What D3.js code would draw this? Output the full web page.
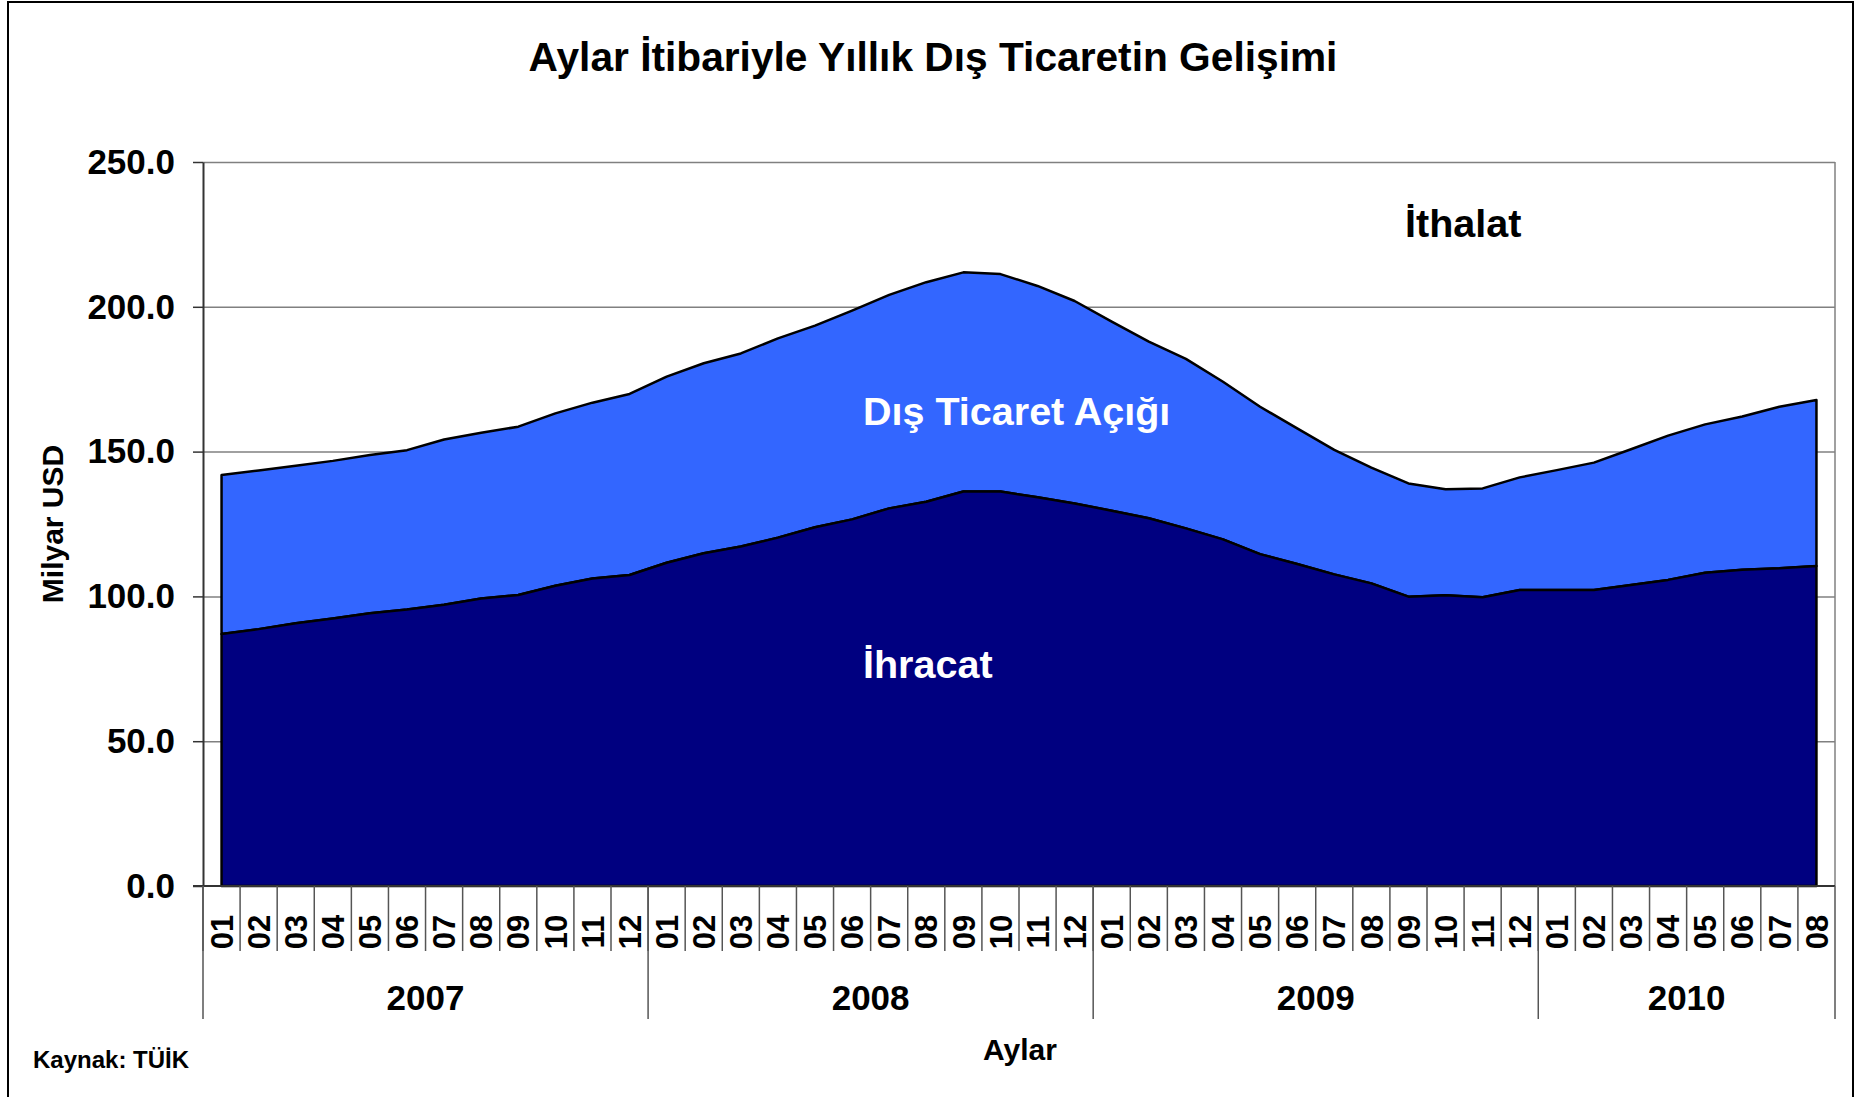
<!DOCTYPE html>
<html>
<head>
<meta charset="utf-8">
<script src="https://cdn.jsdelivr.net/npm/d3@7"></script>
<style>
  body { margin: 0; background: #fff; }
  text { font-family: "Liberation Sans", Arial, sans-serif; font-weight: bold; }
</style>
</head>
<body>
<div id="vis-holder"></div>
<script>
// Data (milyar USD, 12-month rolling)
const years = ["2007", "2008", "2009", "2010"];
const monthsPerYear = [12, 12, 12, 8];
const ihracat = [
  87.0, 88.7, 90.7, 92.4, 94.2, 95.5, 97.1, 99.3, 100.5, 103.7, 106.2, 107.4,
  111.6, 114.9, 117.2, 120.3, 123.9, 126.6, 130.4, 132.7, 136.2, 136.2, 134.2, 132.1,
  129.6, 127.0, 123.5, 119.7, 114.6, 111.2, 107.6, 104.5, 99.9, 100.4, 99.7, 102.2,
  102.2, 102.2, 103.9, 105.7, 108.2, 109.2, 109.7, 110.5
];
const ithalat = [
  141.9, 143.5, 145.1, 146.8, 148.8, 150.5, 154.2, 156.5, 158.6, 163.2, 166.9, 169.9,
  175.9, 180.5, 183.9, 189.1, 193.5, 198.7, 204.1, 208.5, 211.9, 211.3, 207.2, 202.0,
  194.9, 188.0, 182.0, 174.1, 165.5, 158.0, 150.6, 144.5, 139.0, 137.0, 137.3, 141.1,
  143.6, 146.2, 150.8, 155.5, 159.4, 162.1, 165.5, 167.8
];
const yTicks = [0, 50, 100, 150, 200, 250];

// Set dimensions
const width = 1858;
const height = 1097;
const margin = { top: 162, right: 23, bottom: 211, left: 203 };

// build month keys like 2007-01
const keys = [];
years.forEach((yr, i) => {
  for (let m = 1; m <= monthsPerYear[i]; m++) keys.push(yr + "-" + String(m).padStart(2, "0"));
});
const data = keys.map((k, i) => ({ key: k, month: k.slice(5), ihr: ihracat[i], ith: ithalat[i] }));

const svg = d3.select("#vis-holder")
  .append("svg")
  .attr("width", width)
  .attr("height", height);

svg.append("rect")
  .attr("width", width).attr("height", height)
  .attr("fill", "#fff");

// outer chart border (bottom edge falls outside the picture)
svg.append("rect")
  .attr("x", 8).attr("y", 2)
  .attr("width", 1845).attr("height", 1110)
  .attr("fill", "none")
  .attr("stroke", "#000")
  .attr("stroke-width", 2);

// Scales
const x = d3.scaleBand()
  .domain(keys)
  .range([margin.left, width - margin.right])
  .padding(0);
const y = d3.scaleLinear()
  .domain([0, 250])
  .range([height - margin.bottom, margin.top]);
const cx = (d) => x(d.key) + x.bandwidth() / 2;

// Gridlines
svg.append("g")
  .attr("transform", `translate(${margin.left},0)`)
  .call(d3.axisLeft(y).tickValues(yTicks.slice(1)).tickSize(-(width - margin.left - margin.right)).tickFormat(""))
  .call((g) => g.select(".domain").remove())
  .call((g) => g.selectAll("line").attr("stroke", "#808080").attr("stroke-width", 1.5));

// plot right border
svg.append("line")
  .attr("x1", width - margin.right).attr("x2", width - margin.right)
  .attr("y1", margin.top).attr("y2", height - margin.bottom)
  .attr("stroke", "#808080").attr("stroke-width", 1.5);

// Areas
const areaIhr = d3.area()
  .x(cx)
  .y0(y(0))
  .y1((d) => y(d.ihr));
const areaAcik = d3.area()
  .x(cx)
  .y0((d) => y(d.ihr))
  .y1((d) => y(d.ith));

svg.append("path")
  .datum(data)
  .attr("d", areaAcik)
  .attr("fill", "#3366FF")
  .attr("stroke", "#000")
  .attr("stroke-width", 2.5)
  .attr("stroke-linejoin", "round");

svg.append("path")
  .datum(data)
  .attr("d", areaIhr)
  .attr("fill", "#000080")
  .attr("stroke", "#000")
  .attr("stroke-width", 2.5)
  .attr("stroke-linejoin", "round");

// Y axis
svg.append("g")
  .attr("transform", `translate(${margin.left},0)`)
  .call(d3.axisLeft(y).tickValues(yTicks).tickFormat(d3.format(".1f")).tickSize(10).tickSizeOuter(0).tickPadding(18))
  .call((g) => g.select(".domain").attr("stroke", "#333").attr("stroke-width", 2))
  .call((g) => g.selectAll(".tick line").attr("stroke", "#333").attr("stroke-width", 1.5))
  .call((g) => g.selectAll("text")
    .attr("font-size", "35px")
    .attr("font-weight", "bold")
    .attr("font-family", "Liberation Sans, Arial, sans-serif")
    .attr("fill", "#000"));

// X axis baseline
svg.append("line")
  .attr("x1", margin.left - 10).attr("x2", width - margin.right)
  .attr("y1", y(0)).attr("y2", y(0))
  .attr("stroke", "#333").attr("stroke-width", 2);

// Month dividers and labels
const base = y(0);
svg.append("g")
  .selectAll("line")
  .data(keys)
  .enter()
  .append("line")
  .attr("x1", (k) => x(k)).attr("x2", (k) => x(k))
  .attr("y1", base).attr("y2", base + 65)
  .attr("stroke", "#555").attr("stroke-width", 1.5);

svg.append("g")
  .selectAll("text")
  .data(data)
  .enter()
  .append("text")
  .attr("transform", (d) => `translate(${cx(d)},${base + 46}) rotate(-90)`)
  .attr("text-anchor", "middle")
  .attr("dy", "0.36em")
  .attr("font-size", "31px")
  .attr("fill", "#000")
  .text((d) => d.month);

// Year dividers and labels
let start = 0;
const yearPos = years.map((yr, i) => {
  const first = keys[start];
  const last = keys[start + monthsPerYear[i] - 1];
  start += monthsPerYear[i];
  return { yr: yr, x0: x(first), x1: x(last) + x.bandwidth() };
});

svg.append("g")
  .selectAll("line")
  .data(yearPos.map((p) => p.x0).concat([yearPos[yearPos.length - 1].x1]))
  .enter()
  .append("line")
  .attr("x1", (d) => d).attr("x2", (d) => d)
  .attr("y1", base).attr("y2", base + 133)
  .attr("stroke", "#555").attr("stroke-width", 1.5);

svg.append("g")
  .selectAll("text")
  .data(yearPos)
  .enter()
  .append("text")
  .attr("x", (p) => (p.x0 + p.x1) / 2)
  .attr("y", base + 124)
  .attr("text-anchor", "middle")
  .attr("font-size", "35px")
  .attr("fill", "#000")
  .text((p) => p.yr);

// Titles
svg.append("text")
  .attr("x", 933).attr("y", 71)
  .attr("text-anchor", "middle")
  .attr("font-size", "40.7px")
  .text("Aylar İtibariyle Yıllık Dış Ticaretin Gelişimi");

svg.append("text")
  .attr("transform", "translate(63,524) rotate(-90)")
  .attr("text-anchor", "middle")
  .attr("font-size", "30px")
  .text("Milyar USD");

svg.append("text")
  .attr("x", 1020).attr("y", 1060)
  .attr("text-anchor", "middle")
  .attr("font-size", "30px")
  .text("Aylar");

svg.append("text")
  .attr("x", 33).attr("y", 1068)
  .attr("font-size", "24px")
  .text("Kaynak: TÜİK");

// Series labels
svg.append("text")
  .attr("x", 1405).attr("y", 237)
  .attr("font-size", "39.5px")
  .attr("fill", "#000")
  .text("İthalat");

svg.append("text")
  .attr("x", 863).attr("y", 425)
  .attr("font-size", "39.5px")
  .attr("fill", "#fff")
  .text("Dış Ticaret Açığı");

svg.append("text")
  .attr("x", 863).attr("y", 678)
  .attr("font-size", "39.5px")
  .attr("fill", "#fff")
  .text("İhracat");
</script>
</body>
</html>
